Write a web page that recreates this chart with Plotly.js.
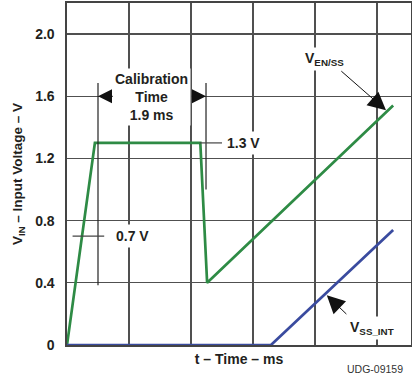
<!DOCTYPE html>
<html>
<head>
<meta charset="utf-8">
<script src="https://cdn.plot.ly/plotly-3.0.1.min.js"></script>
<style>html,body{margin:0;padding:0;background:#fff;}#chart{width:412px;height:381px;}</style>
</head>
<body>
<div id="chart"></div>
<script>
// Data (x in grid units, y in volts)
const venTime = [0, 0.45, 2.15, 2.26, 5.26];
const venVolt = [0, 1.30, 1.30, 0.40, 1.54];
const vssTime = [0, 3.29, 5.26];
const vssVolt = [0, 0, 0.74];
const yTickVals = [0, 0.4, 0.8, 1.2, 1.6, 2.0];
const yTickText = ['0', '0.4', '0.8', '1.2', '1.6', '2.0'];

const FONT = 'Liberation Sans, Arial, sans-serif';
const TXT = '#231f20';

const traces = [
  {x: venTime, y: venVolt, mode: 'lines', line: {color: '#2e8b45', width: 2.7}, cliponaxis: false, hoverinfo: 'skip'},
  {x: vssTime, y: vssVolt, mode: 'lines', line: {color: '#3a4b9f', width: 2.7}, cliponaxis: false, hoverinfo: 'skip'}
];

const bold = (s) => '<b>' + s + '</b>';
const arrowCommon = {showarrow: true, arrowhead: 2, arrowsize: 2.8, arrowwidth: 1, arrowcolor: '#111', text: '', axref: 'x', ayref: 'y'};

const layout = {
  width: 412, height: 381,
  margin: {l: 67, r: 1, t: 3, b: 36},
  paper_bgcolor: '#fff', plot_bgcolor: '#fff',
  showlegend: false,
  font: {family: FONT, color: TXT},
  xaxis: {
    range: [0, 5.548], dtick: 1, tick0: 0, showticklabels: false, ticks: '',
    showgrid: true, gridcolor: '#505050', gridwidth: 1.3, zeroline: false,
    showline: true, mirror: true, linecolor: '#444', linewidth: 1.6,
    title: {text: bold('t – Time – ms'), font: {size: 14, color: TXT}, standoff: 8}
  },
  yaxis: {
    range: [0, 2.2], tickvals: yTickVals, ticktext: yTickText.map(bold),
    tickfont: {size: 14, color: TXT}, ticks: '', ticklabelstandoff: 8,
    showgrid: true, gridcolor: '#505050', gridwidth: 1.3, zeroline: false,
    showline: true, mirror: true, linecolor: '#444', linewidth: 1.6,
    title: {text: bold('V<sub>IN</sub> – Input Voltage – V'), font: {size: 13.5, color: TXT}, standoff: 9}
  },
  shapes: [
    {type: 'line', xref: 'x', yref: 'y', x0: 0.50, x1: 0.50, y0: 1.685, y1: 0.385, line: {color: '#222', width: 1.2}},
    {type: 'line', xref: 'x', yref: 'y', x0: 2.242, x1: 2.242, y0: 1.685, y1: 1.0, line: {color: '#222', width: 1.2}},
    {type: 'line', xref: 'x', yref: 'y', x0: 0.09, x1: 0.60, y0: 0.70, y1: 0.70, line: {color: '#444', width: 1.2}},
    {type: 'line', xref: 'x', yref: 'y', x0: 2.14, x1: 2.50, y0: 1.30, y1: 1.30, line: {color: '#444', width: 1.2}}
  ],
  annotations: [
    {xref: 'x', yref: 'y', x: 1.355, y: 1.595, text: bold('Calibration<br>Time<br>1.9 ms'), showarrow: false,
     font: {size: 14, color: TXT}, bgcolor: '#fff', borderpad: 2, align: 'center'},
    {xref: 'x', yref: 'y', x: 0.726, y: 0.70, xanchor: 'left', text: bold('0.7 V'), showarrow: false,
     font: {size: 14, color: TXT}, bgcolor: '#fff', borderpad: 3},
    {xref: 'x', yref: 'y', x: 2.516, y: 1.30, xanchor: 'left', text: bold('1.3 V'), showarrow: false,
     font: {size: 14, color: TXT}, bgcolor: '#fff', borderpad: 3},
    {xref: 'x', yref: 'y', x: 3.79, y: 1.84, xanchor: 'left', text: bold('V<sub>EN/SS</sub>'), showarrow: false,
     font: {size: 14, color: TXT}, bgcolor: '#fff', borderpad: 2},
    {xref: 'x', yref: 'y', x: 4.51, y: 0.11, xanchor: 'left', text: bold('V<sub>SS_INT</sub>'), showarrow: false,
     font: {size: 14, color: TXT}, bgcolor: '#fff', borderpad: 2},
    {xref: 'paper', yref: 'paper', x: 0.983, y: -0.07, xanchor: 'right', yanchor: 'middle', text: 'UDG-09159', showarrow: false,
     font: {size: 10.5, color: '#333'}},
    Object.assign({}, arrowCommon, {x: 0.50, y: 1.6, ax: 0.76, ay: 1.6}),
    Object.assign({}, arrowCommon, {x: 2.242, y: 1.6, ax: 1.99, ay: 1.6}),
    Object.assign({}, arrowCommon, {x: 5.145, y: 1.51, ax: 4.40, ay: 1.77, arrowsize: 3.6}),
    Object.assign({}, arrowCommon, {x: 4.19, y: 0.32, ax: 4.53, ay: 0.19, arrowsize: 3.6})
  ]
};

Plotly.newPlot('chart', traces, layout, {staticPlot: true, displayModeBar: false});
</script>
</body>
</html>
